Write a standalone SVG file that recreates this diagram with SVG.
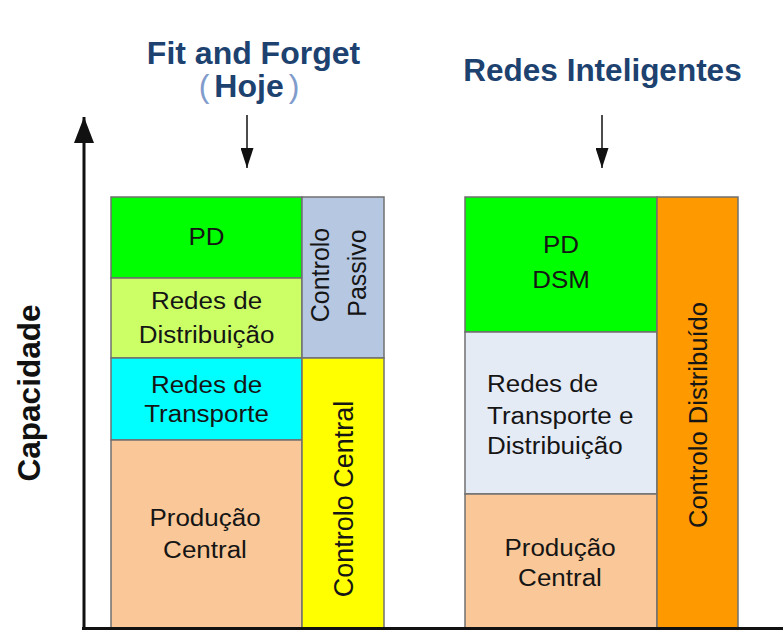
<svg xmlns="http://www.w3.org/2000/svg" width="783" height="630" viewBox="0 0 783 630">
  <style>
    .bx { stroke: #707070; stroke-width: 1.5; }
    .t { font-family: "Liberation Sans", Arial, sans-serif; font-size: 23px; fill: #151515; }
    .v { font-family: "Liberation Sans", Arial, sans-serif; fill: #151515; text-anchor: middle; }
    .title { font-family: "Liberation Sans", Arial, sans-serif; font-weight: bold; fill: #1d4270; text-anchor: middle; }
    .paren { fill: #7f9ccc; font-weight: normal; }
    .axis { stroke: #111; stroke-width: 3; fill: none; }
    .arr { stroke: #111; stroke-width: 1.5; fill: none; }
  </style>
  <defs>
    <marker id="ah" viewBox="0 0 20 13" refX="20" refY="6.5" markerWidth="20" markerHeight="13" markerUnits="userSpaceOnUse" orient="auto">
      <path d="M0,0 L20,6.5 L0,13 z" fill="#111"/>
    </marker>
    <marker id="ahBig" viewBox="0 0 26 20" refX="26" refY="10" markerWidth="26" markerHeight="20" markerUnits="userSpaceOnUse" orient="auto">
      <path d="M0,0 L26,10 L0,20 z" fill="#111"/>
    </marker>
  </defs>
  <rect width="783" height="630" fill="#ffffff"/>

  <!-- Titles -->
  <g id="title-fit">
    <text class="title" x="253.5" y="64" font-size="32">Fit and Forget</text>
    <text class="title" x="249" y="97" font-size="32"><tspan class="paren">(</tspan><tspan dx="5">Hoje</tspan><tspan class="paren" dx="5">)</tspan></text>
  </g>
  <g id="title-redes">
    <text class="title" x="602.5" y="81" font-size="31.5">Redes Inteligentes</text>
  </g>
  <g id="label-capacidade">
    <text transform="translate(40,393) rotate(-90)" font-family="Liberation Sans, Arial, sans-serif" font-weight="bold" font-size="31.5" fill="#111" text-anchor="middle">Capacidade</text>
  </g>

  <!-- Left stack -->
  <g id="pd-left">
    <rect class="bx" x="111" y="197" width="191" height="81" fill="#00ff00"/>
    <text class="t" transform="translate(206.5,245) scale(1.13,1)" text-anchor="middle">PD</text>
  </g>
  <g id="redes-distribuicao">
    <rect class="bx" x="111" y="278" width="191" height="80" fill="#ccff66"/>
    <text class="t" transform="translate(206.5,309) scale(1.13,1)" text-anchor="middle"><tspan x="0" y="0">Redes de</tspan><tspan x="0" y="34">Distribuição</tspan></text>
  </g>
  <g id="redes-transporte">
    <rect class="bx" x="111" y="358" width="191" height="82" fill="#00ffff"/>
    <text class="t" transform="translate(206.5,393) scale(1.13,1)" text-anchor="middle"><tspan x="0" y="0">Redes de</tspan><tspan x="0" y="29">Transporte</tspan></text>
  </g>
  <g id="producao-central-left">
    <rect class="bx" x="111" y="440" width="191" height="188" fill="#fac898"/>
    <text class="t" transform="translate(205,526) scale(1.13,1)" text-anchor="middle"><tspan x="0" y="0">Produção</tspan><tspan x="0" y="32">Central</tspan></text>
  </g>
  <g id="controlo-passivo">
    <rect class="bx" x="302" y="197" width="82" height="161" fill="#b6c7e2"/>
    <text class="v" font-size="25" transform="translate(329,275) rotate(-90)">Controlo</text>
    <text class="v" font-size="25" transform="translate(366,273) rotate(-90)">Passivo</text>
  </g>
  <g id="controlo-central">
    <rect class="bx" x="302" y="358" width="82" height="270" fill="#ffff00"/>
    <text class="v" font-size="27" transform="translate(353,499) rotate(-90)">Controlo Central</text>
  </g>

  <!-- Right stack -->
  <g id="pd-dsm">
    <rect class="bx" x="465" y="197" width="192" height="135" fill="#00ff00"/>
    <text class="t" transform="translate(561,253) scale(1.13,1)" text-anchor="middle"><tspan x="0" y="0">PD</tspan><tspan x="0" y="35">DSM</tspan></text>
  </g>
  <g id="redes-transporte-distribuicao">
    <rect class="bx" x="465" y="332" width="192" height="162" fill="#e5ebf5"/>
    <text class="t" transform="translate(487,392) scale(1.13,1)"><tspan x="0" y="0">Redes de</tspan><tspan x="0" y="32">Transporte e</tspan><tspan x="0" y="62">Distribuição</tspan></text>
  </g>
  <g id="producao-central-right">
    <rect class="bx" x="465" y="494" width="192" height="134" fill="#fac898"/>
    <text class="t" transform="translate(560,556) scale(1.13,1)" text-anchor="middle"><tspan x="0" y="0">Produção</tspan><tspan x="0" y="30">Central</tspan></text>
  </g>
  <g id="controlo-distribuido">
    <rect class="bx" x="657" y="197" width="81" height="431" fill="#ff9900"/>
    <text class="v" font-size="25.6" transform="translate(707,415) rotate(-90)">Controlo Distribuído</text>
  </g>

  <!-- Connectors -->
  <g id="connectors">
    <line class="arr" x1="247" y1="115" x2="247" y2="168" marker-end="url(#ah)"/>
    <line class="arr" x1="602" y1="115" x2="602" y2="168" marker-end="url(#ah)"/>
    <line class="axis" x1="84" y1="630" x2="84" y2="117" marker-end="url(#ahBig)"/>
    <line class="axis" x1="82" y1="628.5" x2="783" y2="628.5" stroke="#2a2a2a"/>
  </g>
</svg>
